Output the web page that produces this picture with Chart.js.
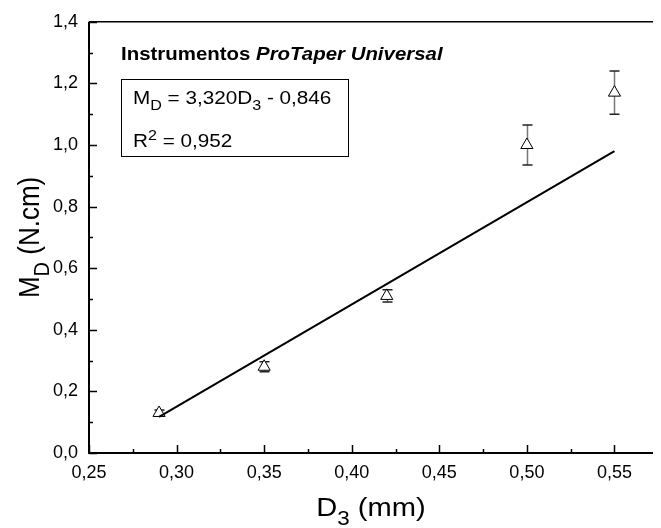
<!DOCTYPE html>
<html>
<head>
<meta charset="utf-8">
<script src="https://cdn.jsdelivr.net/npm/chart.js@4.4.0/dist/chart.umd.min.js"></script>
<style>
  html, body { margin: 0; padding: 0; background: #fff; }
  #wrap { width: 661px; height: 528px; }
</style>
</head>
<body>
<div id="wrap"><canvas id="chart" width="661" height="528"></canvas></div>
<script>
"use strict";

// D3 diameter (mm) of each instrument
const d3Values = [0.29, 0.35, 0.42, 0.50, 0.55];
// mean torque MD (N.cm)
const mdValues = [0.13, 0.28, 0.51, 1.00, 1.17];
// error bar half-lengths
const mdErrors = [0.01, 0.016, 0.02, 0.065, 0.07];
// regression line ends
const fitX = [0.29, 0.55];
const fitY = [0.117, 0.98];

const xTicks = [0.25, 0.30, 0.35, 0.40, 0.45, 0.50, 0.55];
const yTicks = [0.0, 0.2, 0.4, 0.6, 0.8, 1.0, 1.2, 1.4];

const FONT = "'Liberation Sans', Arial, sans-serif";
// the original figure is a bit wider than tall, text looks stretched
const SX = 1.12;

// draws text made of pieces, some of them sub/superscript; returns width
function drawRich(ctx, parts, size, draw) {
    let cx = 0;
    parts.forEach(p => {
        let s = p.sub || p.sup ? Math.round(size * 0.75) : size;
        ctx.font = (p.style || "") + " " + s + "px " + FONT;
        let dy = p.sub ? size * 0.33 : (p.sup ? -size * 0.4 : 0);
        if (draw) ctx.fillText(p.t, cx, dy);
        cx += ctx.measureText(p.t).width;
    });
    return cx;
}

function textAt(ctx, parts, x, y, size, sx, sy) {
    ctx.save();
    ctx.translate(x, y);
    ctx.scale(sx, sy);
    drawRich(ctx, parts, size, true);
    ctx.restore();
}

const framePlugin = {
    id: "frame",
    beforeDatasetsDraw(chart) {
        const ctx = chart.ctx, xs = chart.scales.x, ys = chart.scales.y;
        const a = chart.chartArea;
        ctx.save();
        // error bars, under the markers
        ctx.lineWidth = 1.5;
        d3Values.forEach((x, i) => {
            let px = Math.round(xs.getPixelForValue(x)) + 0.5;
            let top = ys.getPixelForValue(mdValues[i] + mdErrors[i]);
            let bot = ys.getPixelForValue(mdValues[i] - mdErrors[i]);
            ctx.strokeStyle = "#777";
            ctx.beginPath();
            ctx.moveTo(px, top); ctx.lineTo(px, bot);
            ctx.stroke();
            ctx.strokeStyle = "#222";
            ctx.beginPath();
            ctx.moveTo(px - 5, top); ctx.lineTo(px + 5, top);
            ctx.moveTo(px - 5, bot); ctx.lineTo(px + 5, bot);
            ctx.stroke();
        });

        // frame
        ctx.strokeStyle = "#000";
        ctx.lineWidth = 2;
        ctx.beginPath();
        ctx.moveTo(a.left, a.top); ctx.lineTo(a.left, a.bottom); ctx.lineTo(a.right, a.bottom);
        ctx.stroke();
        ctx.lineWidth = 1.5;
        ctx.beginPath();
        ctx.moveTo(a.left, a.top); ctx.lineTo(a.right, a.top);
        ctx.stroke();

        // inward ticks, major and minor
        ctx.lineWidth = 1.5;
        ctx.beginPath();
        xTicks.forEach(v => {
            let px = Math.round(xs.getPixelForValue(v)) + 0.5;
            ctx.moveTo(px, a.bottom); ctx.lineTo(px, a.bottom - 8);
            let m = v + 0.025;
            if (m < xs.max) {
                let pm = Math.round(xs.getPixelForValue(m)) + 0.5;
                ctx.moveTo(pm, a.bottom); ctx.lineTo(pm, a.bottom - 4);
            }
        });
        yTicks.forEach(v => {
            let py = Math.round(ys.getPixelForValue(v)) + 0.5;
            ctx.moveTo(a.left, py); ctx.lineTo(a.left + 8, py);
            let m = v + 0.1;
            if (m < ys.max) {
                let pm = Math.round(ys.getPixelForValue(m)) + 0.5;
                ctx.moveTo(a.left, pm); ctx.lineTo(a.left + 4, pm);
            }
        });
        ctx.stroke();
        ctx.restore();
    },
    afterDraw(chart) {
        const ctx = chart.ctx, a = chart.chartArea;
        ctx.save();
        ctx.fillStyle = "#000";
        ctx.textBaseline = "alphabetic";
        ctx.textAlign = "left";

        // annotation title
        textAt(ctx, [
            { t: "Instrumentos ", style: "bold" },
            { t: "ProTaper Universal", style: "italic bold" }
        ], 121, 60, 19, 1.075, 1);

        // equation box
        ctx.strokeStyle = "#000";
        ctx.lineWidth = 1;
        ctx.strokeRect(121.5, 79.5, 227, 77);
        textAt(ctx, [
            { t: "M" }, { t: "D", sub: true }, { t: " = 3,320D" }, { t: "3", sub: true }, { t: " - 0,846" }
        ], 133, 104, 18, 1.15, 1);
        textAt(ctx, [
            { t: "R" }, { t: "2", sup: true }, { t: " = 0,952" }
        ], 133, 147, 18, 1.15, 1);

        // x axis title
        let xt = [{ t: "D" }, { t: "3", sub: true }, { t: " (mm)" }];
        let w = drawRich(ctx, xt, 26, false) * SX;
        textAt(ctx, xt, (a.left + a.right) / 2 - w / 2, 516, 26, SX, 1);

        // y axis title, rotated; the stretch goes across the letters
        let yt = [{ t: "M" }, { t: "D", sub: true }, { t: " (N.cm)" }];
        w = drawRich(ctx, yt, 26, false);
        ctx.translate(39, (a.top + a.bottom) / 2);
        ctx.rotate(-Math.PI / 2);
        textAt(ctx, yt, -w / 2, 0, 26, 1, SX);
        ctx.restore();
    }
};

new Chart(document.getElementById("chart"), {
    type: "scatter",
    data: {
        datasets: [{
            label: "Regression",
            data: fitX.map((x, i) => ({ x: x, y: fitY[i] })),
            showLine: true,
            borderColor: "#000",
            borderWidth: 2,
            pointRadius: 0,
            order: 0
        }, {
            label: "MD",
            data: d3Values.map((x, i) => ({ x: x, y: mdValues[i] })),
            pointStyle: "triangle",
            pointRadius: 7,
            borderColor: "#000",
            borderWidth: 1,
            backgroundColor: "#fff",
            order: 1
        }]
    },
    options: {
        responsive: false,
        animation: false,
        layout: { padding: { top: 17, right: 0, bottom: 0, left: 0 } },
        plugins: {
            legend: { display: false },
            tooltip: { enabled: false }
        },
        scales: {
            x: {
                type: "linear",
                min: 0.25,
                max: 0.572,
                afterBuildTicks: s => { s.ticks = xTicks.map(v => ({ value: v })); },
                afterFit: s => { s.height = 75; },
                grid: { display: false, drawTicks: false },
                border: { display: false },
                ticks: {
                    padding: 9,
                    color: "#000",
                    autoSkip: false,
                    maxRotation: 0,
                    font: { family: FONT, size: 18 },
                    callback: v => v.toFixed(2).replace(".", ",")
                }
            },
            y: {
                type: "linear",
                min: 0,
                max: 1.4,
                afterBuildTicks: s => { s.ticks = yTicks.map(v => ({ value: v })); },
                afterFit: s => { s.width = 89; },
                grid: { display: false, drawTicks: false },
                border: { display: false },
                ticks: {
                    padding: 11,
                    color: "#000",
                    autoSkip: false,
                    font: { family: FONT, size: 18 },
                    callback: v => v.toFixed(1).replace(".", ",")
                }
            }
        }
    },
    plugins: [framePlugin]
});
</script>
</body>
</html>
